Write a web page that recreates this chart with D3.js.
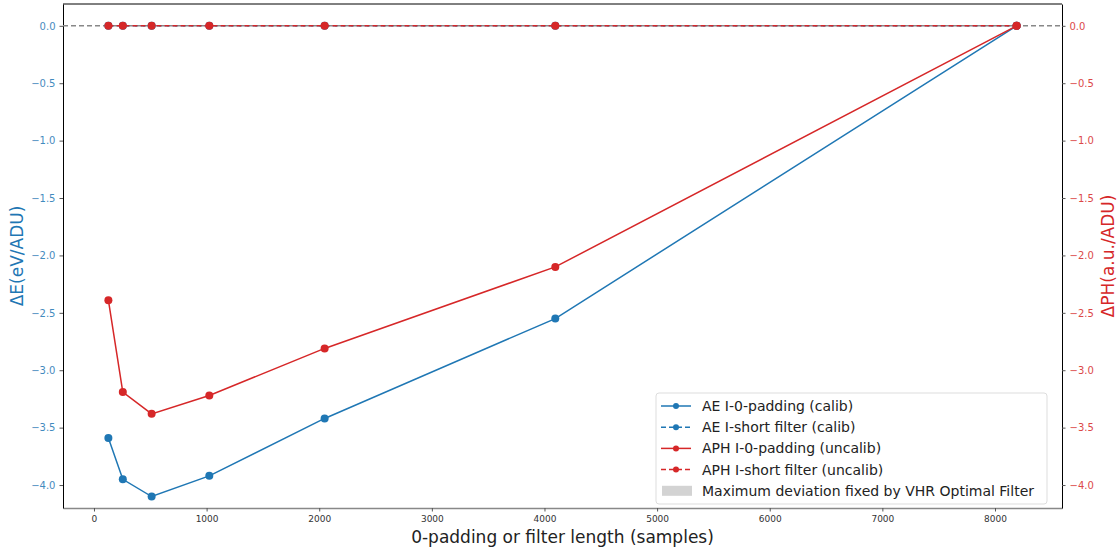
<!DOCTYPE html>
<html>
<head>
<meta charset="utf-8">
<script src="https://cdn.jsdelivr.net/npm/d3@7"></script>
<style>
  body { margin: 0; background: #fff; }
  text { font-family: "DejaVu Sans", sans-serif; }
</style>
</head>
<body>
<div id="chart"></div>
<script>
// data
const lengths = [128, 256, 512, 1024, 2048, 4096, 8192];
const aePadding = [-3.59, -3.95, -4.10, -3.92, -3.42, -2.55, 0.0];
const aeShort = [0, 0, 0, 0, 0, 0, 0];
const aphPadding = [-2.39, -3.19, -3.38, -3.22, -2.81, -2.10, 0.0];
const aphShort = [0, 0, 0, 0, 0, 0, 0];
const xTicks = [0, 1000, 2000, 3000, 4000, 5000, 6000, 7000, 8000];
const yTicks = [0, -0.5, -1, -1.5, -2, -2.5, -3, -3.5, -4];
const legendLabels = [
    'AE I-0-padding (calib)',
    'AE I-short filter (calib)',
    'APH I-0-padding (uncalib)',
    'APH I-short filter (uncalib)',
    'Maximum deviation fixed by VHR Optimal Filter'
];

const blue = '#1f77b4';
const red = '#d62728';
const width = 1120, height = 548;
const margin = {left: 63, right: 58, top: 4, bottom: 40};

const svg = d3.select('#chart').append('svg')
    .attr('width', width)
    .attr('height', height);

const x = d3.scaleLinear()
    .domain([-275, 8595])
    .range([margin.left, width - margin.right]);
const y = d3.scaleLinear()
    .domain([-4.2, 0.19])
    .range([height - margin.bottom, margin.top]);
// right axis shares the same range
const y2 = y.copy();

const fmt = d => d3.format('.1f')(d).replace('-', '\u2212');

// axes
const gx = svg.append('g')
    .attr('transform', `translate(0,${height - margin.bottom})`)
    .call(d3.axisBottom(x).tickValues(xTicks).tickSize(3.5).tickSizeOuter(0).tickPadding(4).tickFormat(d3.format('d')));
gx.selectAll('text').attr('font-size', 9).attr('fill', '#333');
gx.select('.domain').attr('stroke', '#888').attr('stroke-width', 1.6);
gx.selectAll('.tick line').attr('stroke', '#555');

const gy = svg.append('g')
    .attr('transform', `translate(${margin.left},0)`)
    .call(d3.axisLeft(y).tickValues(yTicks).tickSize(3.5).tickSizeOuter(0).tickPadding(4).tickFormat(fmt));
gy.selectAll('text').attr('font-size', 10).attr('fill', blue).attr('opacity', 0.85);
gy.select('.domain').attr('stroke', '#000');
gy.selectAll('.tick line').attr('stroke', '#555');

const gy2 = svg.append('g')
    .attr('transform', `translate(${width - margin.right},0)`)
    .call(d3.axisRight(y2).tickValues(yTicks).tickSize(3.5).tickSizeOuter(0).tickPadding(4).tickFormat(fmt));
gy2.selectAll('text').attr('font-size', 10).attr('fill', red).attr('opacity', 0.85);
gy2.select('.domain').attr('stroke', '#000');
gy2.selectAll('.tick line').attr('stroke', '#555');

// top spine
svg.append('line')
    .attr('x1', margin.left).attr('x2', width - margin.right)
    .attr('y1', margin.top).attr('y2', margin.top)
    .attr('stroke', '#000');

// grey reference line at zero
svg.append('line')
    .attr('x1', margin.left).attr('x2', width - margin.right)
    .attr('y1', y(0)).attr('y2', y(0))
    .attr('stroke', '#888').attr('stroke-width', 1.5)
    .attr('stroke-dasharray', '5,3');

const series = [
    {values: aePadding, color: blue, dash: null, scale: y},
    {values: aeShort, color: blue, dash: '5,3', scale: y},
    {values: aphPadding, color: red, dash: null, scale: y2},
    {values: aphShort, color: red, dash: '5,3', scale: y2}
];

series.forEach(s => {
    const line = d3.line()
        .x((d, i) => x(lengths[i]))
        .y(d => s.scale(d));
    svg.append('path')
        .datum(s.values)
        .attr('fill', 'none')
        .attr('stroke', s.color)
        .attr('stroke-width', 1.5)
        .attr('stroke-dasharray', s.dash)
        .attr('d', line);
    svg.append('g')
        .selectAll('circle')
        .data(s.values)
        .enter()
        .append('circle')
        .attr('cx', (d, i) => x(lengths[i]))
        .attr('cy', d => s.scale(d))
        .attr('r', 4)
        .attr('fill', s.color);
});

// axis labels
svg.append('text')
    .attr('x', (margin.left + width - margin.right) / 2)
    .attr('y', 543)
    .attr('text-anchor', 'middle')
    .attr('font-size', 17)
    .attr('fill', '#222')
    .text('0-padding or filter length (samples)');

svg.append('text')
    .attr('transform', `translate(23,${(margin.top + height - margin.bottom) / 2}) rotate(-90)`)
    .attr('text-anchor', 'middle')
    .attr('font-size', 17)
    .attr('fill', blue)
    .text('\u0394E(eV/ADU)');

svg.append('text')
    .attr('transform', `translate(1114,${(margin.top + height - margin.bottom) / 2}) rotate(-90)`)
    .attr('text-anchor', 'middle')
    .attr('font-size', 17)
    .attr('fill', red)
    .text('\u0394PH(a.u./ADU)');

// legend
const legend = svg.append('g').attr('transform', 'translate(656,393)');
legend.append('rect')
    .attr('width', 391).attr('height', 111)
    .attr('rx', 3)
    .attr('fill', '#fff').attr('fill-opacity', 0.8)
    .attr('stroke', '#ddd');

const handles = [
    {color: blue, dash: null},
    {color: blue, dash: '5,3'},
    {color: red, dash: null},
    {color: red, dash: '5,3'},
    {patch: true}
];

const rows = legend.selectAll('g.row')
    .data(legendLabels)
    .enter()
    .append('g')
    .attr('class', 'row')
    .attr('transform', (d, i) => `translate(0,${13 + i * 21.2})`);

rows.each(function (d, i) {
    const g = d3.select(this);
    const h = handles[i];
    if (h.patch) {
        g.append('rect')
            .attr('x', 6).attr('y', -5)
            .attr('width', 30).attr('height', 10)
            .attr('fill', '#d3d3d3');
    } else {
        g.append('line')
            .attr('x1', 5).attr('x2', 35)
            .attr('stroke', h.color).attr('stroke-width', 1.5)
            .attr('stroke-dasharray', h.dash);
        g.append('circle')
            .attr('cx', 20).attr('r', 3)
            .attr('fill', h.color);
    }
    g.append('text')
        .attr('x', 46)
        .attr('dy', '0.35em')
        .attr('font-size', 14)
        .attr('fill', '#222')
        .text(d);
});
</script>
</body>
</html>
